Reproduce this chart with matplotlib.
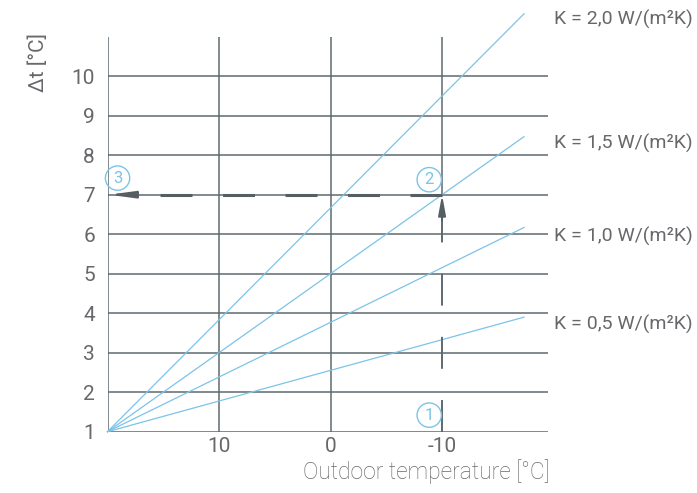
import matplotlib
matplotlib.use("Agg")
import matplotlib.pyplot as plt

plt.rcParams['font.family'] = ['Roboto', 'DejaVu Sans']
plt.rcParams['lines.scale_dashes'] = False

# data
k_labels = ['K = 2,0 W/(m²K)', 'K = 1,5 W/(m²K)', 'K = 1,0 W/(m²K)', 'K = 0,5 W/(m²K)']
t_start = 20.0
t_end = -17.35
dt_start = [1.0, 1.0, 1.0, 1.0]
dt_end = [11.58, 8.47, 6.17, 3.90]
label_y = [11.43, 8.30, 5.94, 3.72]

y_ticks = [1, 2, 3, 4, 5, 6, 7, 8, 9, 10]
x_ticks = [10, 0, -10]
x_grid = [20, 10, 0]

# example reading: -10 °C outdoor, K = 1,5 -> Δt = 7
ex_t = -10
ex_dt = 7

grid_col = '#5e6a70'
blue = '#7cc3e8'
text_col = '#67686b'

fig = plt.figure(figsize=(6.97, 4.93), dpi=100)
ax = fig.add_axes([107.5 / 697, 61.3 / 493, 440.5 / 697, 395 / 493])
ax.set_xlim(20, -19.5)
ax.set_ylim(1, 11)
for s in ax.spines.values():
    s.set_visible(False)

# grid
for y in y_ticks:
    ax.axhline(y, color=grid_col, lw=1.1, zorder=1)
for x in x_grid:
    ax.axvline(x, color=grid_col, lw=1.1, zorder=1)
ax.plot([ex_t, ex_t], [ex_dt, 11], color=grid_col, lw=1.1, zorder=1)

# K lines
for k in range(len(k_labels)):
    ax.plot([t_start, t_end], [dt_start[k], dt_end[k]], color=blue, lw=0.9,
            clip_on=False, zorder=2)
    ax.text(-20.05, label_y[k], k_labels[k], color=text_col, fontsize=14,
            ha='left', va='center', clip_on=False)

# dashed reading lines
ax.plot([ex_t, ex_t], [1, 6.45], color=grid_col, lw=1.4,
        linestyle=(0, (23, 22.5)), zorder=3)
ax.annotate('', xy=(ex_t, ex_dt), xytext=(ex_t, 6.35),
            arrowprops=dict(arrowstyle='-|>,head_length=1.2,head_width=0.22',
                            color='#555f63', lw=1.4, shrinkA=0, shrinkB=0), zorder=4)
ax.plot([ex_t, 17.9], [ex_dt, ex_dt], color='#555f63', lw=2.2,
        linestyle=(0, (23, 22)), zorder=3)
ax.annotate('', xy=(19.9, ex_dt), xytext=(17.7, ex_dt),
            arrowprops=dict(arrowstyle='-|>,head_length=1.5,head_width=0.2',
                            color='#555f63', lw=1.6, shrinkA=0, shrinkB=0), zorder=4)

# circled step markers
circ = dict(boxstyle='circle,pad=0.28', fc='none', ec=blue, lw=1.0)
for num, (tx, ty) in zip(['1', '2', '3'], [(-8.85, 1.42), (-8.85, 7.38), (19.1, 7.42)]):
    ax.text(tx, ty, num, color=blue, fontsize=12, ha='center', va='center',
            bbox=circ, zorder=5)

# ticks
ax.set_yticks(y_ticks)
ax.set_xticks(x_ticks)
ax.set_xticklabels([str(x) for x in x_ticks])
ax.tick_params(length=0, labelsize=15, colors=text_col, pad=9)
ax.tick_params(axis='x', pad=4)

fig.text(38 / 697, 1 - 63 / 493, 'Δt [°C]', rotation=90, color=text_col,
         fontsize=15, ha='center', va='center')
fig.text(550 / 697, 1 - 472 / 493, 'Outdoor temperature [°C]', color=text_col,
         fontsize=16.5, ha='right', va='center', fontweight='light')

fig.savefig('out.png', dpi=100)
